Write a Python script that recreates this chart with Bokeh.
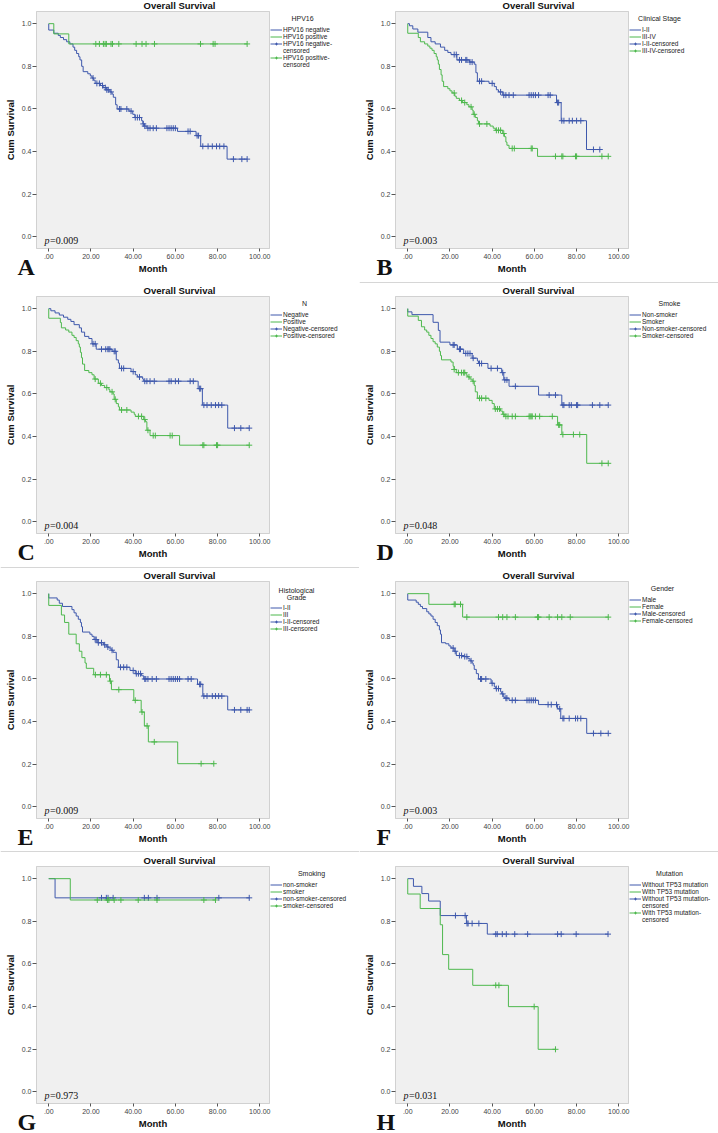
from bokeh.plotting import figure
from bokeh.layouts import gridplot
from bokeh.models import Legend, LegendItem, Label, FixedTicker, Range1d, BoxAnnotation, Span
from bokeh.embed import file_html
from bokeh.resources import INLINE

# ---------------- data (months, cumulative survival) ----------------
X_TICKS = [0, 20, 40, 60, 80, 100]
X_TICK_LABELS = [".00", "20.00", "40.00", "60.00", "80.00", "100.00"]
Y_TICKS = [0.0, 0.2, 0.4, 0.6, 0.8, 1.0]
Y_TICK_LABELS = ["0.0", "0.2", "0.4", "0.6", "0.8", "1.0"]

LETTERS = ["A", "B", "C", "D", "E", "F", "G", "H"]
P_VALUES = ["0.009", "0.003", "0.004", "0.048", "0.009", "0.003", "0.973", "0.031"]
GROUP_TITLES = [["HPV16"], ["Clinical Stage"], ["N"], ["Smoke"],
                ["Histological", "Grade"], ["Gender"], ["Smoking"], ["Mutation"]]
SERIES_LABELS = [
    ["HPV16 negative", "HPV16 positive"], ["I-II", "III-IV"], ["Negative", "Positive"],
    ["Non-smoker", "Smoker"], ["I-II", "III"], ["Male", "Female"],
    ["non-smoker", "smoker"], ["Without TP53 mutation", "With TP53 mutation"]]
CENSOR_LABELS = [
    [["HPV16 negative-", "censored"], ["HPV16 positive-", "censored"]],
    [["I-II-censored"], ["III-IV-censored"]],
    [["Negative-censored"], ["Positive-censored"]],
    [["Non-smoker-censored"], ["Smoker-censored"]],
    [["I-II-censored"], ["III-censored"]],
    [["Male-censored"], ["Female-censored"]],
    [["non-smoker-censored"], ["smoker-censored"]],
    [["Without TP53 mutation-", "censored"], ["With TP53 mutation-", "censored"]]]

# A: HPV16
A_neg_t = [0, 2.4, 4.5, 5.5, 7, 8.5, 10, 11.5, 12.3, 13.2, 14.2, 14.8, 15.6, 16.3, 18.5, 19.7, 20.5, 21.3, 22,
           24.5, 25.8, 27.5, 29, 30, 30.6, 31.7, 32.4, 38, 39.8, 40.8, 44, 44.6, 45.3, 46.5, 61, 69.8, 72, 84.5]
A_neg_s = [0.97, 0.955, 0.945, 0.935, 0.925, 0.915, 0.905, 0.89, 0.875, 0.86, 0.845, 0.83, 0.80, 0.775, 0.765,
           0.755, 0.745, 0.735, 0.72, 0.71, 0.70, 0.69, 0.68, 0.67, 0.655, 0.62, 0.60, 0.59, 0.575, 0.56, 0.545,
           0.53, 0.52, 0.51, 0.495, 0.475, 0.425, 0.365]
A_neg_c = [21, 22.8, 24, 25.5, 26.8, 27.5, 28.2, 29.5, 33.5, 34.2, 37, 39, 41, 42, 43, 44.8, 45.5, 47, 48, 49.5,
           51, 56, 57, 58, 59, 60, 66, 67, 70.3, 71, 73, 75.5, 77.5, 79.5, 81, 83, 87.5, 91.5, 94]
A_pos_t = [2.4, 9.5]
A_pos_s = [0.952, 0.905]
A_pos_c = [22.3, 24, 25.9, 26.7, 27.3, 29.5, 30.2, 33.2, 41.4, 44.2, 46.1, 50.1, 71.9, 77.9, 78.8, 94]

# B: Clinical stage
B_lo_t = [0.8, 2.4, 4.8, 9.5, 11, 13, 15.5, 17.5, 19, 20.5, 23.3, 29.2, 31.5, 32.3, 33, 38.5, 41, 42, 43, 45,
          70.5, 72.7, 84.7]
B_lo_s = [0.99, 0.975, 0.96, 0.935, 0.915, 0.905, 0.89, 0.875, 0.865, 0.855, 0.83, 0.82, 0.81, 0.77, 0.73,
          0.72, 0.705, 0.69, 0.68, 0.665, 0.63, 0.545, 0.41]
B_lo_c = [22, 23, 24.5, 25.5, 27.5, 28, 29.5, 30.5, 34, 35, 40, 44, 45.5, 46.5, 48, 50, 57.5, 58.5, 59.5, 60.5,
          62, 66.5, 67.5, 71, 71.5, 73, 74, 76.5, 78, 80, 82, 88, 91]
B_hi_t = [0, 5, 6, 8, 9.5, 10.5, 11.5, 12.5, 13.5, 14, 14.5, 15, 15.8, 16.3, 17, 19, 20, 21, 22.3, 23, 24.5, 26,
          28, 29, 30.5, 31, 32, 33, 33.5, 39, 40.5, 41.5, 45, 45.8, 46.5, 47, 48, 61.5]
B_hi_s = [0.955, 0.935, 0.915, 0.905, 0.895, 0.885, 0.875, 0.86, 0.845, 0.83, 0.81, 0.785, 0.76, 0.73, 0.705,
          0.695, 0.685, 0.675, 0.66, 0.65, 0.64, 0.63, 0.62, 0.61, 0.595, 0.575, 0.56, 0.545, 0.53, 0.52, 0.51,
          0.50, 0.485, 0.47, 0.445, 0.43, 0.415, 0.378]
B_hi_c = [22, 25.5, 27, 30, 31.5, 34, 37.5, 42, 43, 44, 45.5, 49.5, 50.5, 58.5, 59, 70, 73, 73.5, 79.5, 80, 92, 95]

# C: N
C_neg_t = [1, 3, 5, 7, 9, 10.5, 12, 14.5, 15.5, 17, 19, 20.5, 22.5, 30, 32, 33, 33.5, 39, 41, 42, 44.5, 45,
           70.8, 72.8, 84.8]
C_neg_s = [0.99, 0.98, 0.97, 0.96, 0.95, 0.94, 0.925, 0.91, 0.89, 0.87, 0.86, 0.835, 0.81, 0.80, 0.76, 0.745,
           0.72, 0.705, 0.69, 0.68, 0.67, 0.66, 0.625, 0.548, 0.44]
C_neg_c = [21, 22, 25, 27, 28, 28.5, 29, 31, 31.5, 34.5, 35.5, 40, 43, 45.5, 46.5, 48, 50, 57, 58, 60, 61.5, 67,
           68.5, 71.5, 72, 73.5, 75, 77, 79, 80.5, 82, 88, 91, 95]
C_pos_t = [0, 5.5, 6, 8, 9.5, 11, 12, 13, 14, 14.5, 15, 15.5, 16, 17, 19, 20.5, 21.5, 23.5, 25, 26.5, 28.5, 29,
           30.5, 31, 32, 33, 33.5, 39, 40.5, 41, 45, 45.8, 46.5, 48, 62]
C_pos_s = [0.955, 0.935, 0.91, 0.90, 0.89, 0.875, 0.865, 0.85, 0.835, 0.82, 0.795, 0.77, 0.74, 0.71, 0.70, 0.69,
           0.67, 0.65, 0.64, 0.63, 0.62, 0.61, 0.60, 0.575, 0.555, 0.54, 0.525, 0.515, 0.505, 0.495, 0.48, 0.47,
           0.43, 0.405, 0.36]
C_pos_c = [22, 24.5, 27.5, 30, 31.5, 34.5, 37, 42.5, 44, 45.5, 47, 49.5, 50.5, 57.5, 58.5, 73, 73.5, 79.5, 80, 95]

# D: Smoke
D_non_t = [0, 2, 12, 14.5, 15.3, 20, 23.5, 26.5, 30.5, 33, 33.5, 38, 44.5, 45.5, 48, 62, 73]
D_non_s = [0.985, 0.972, 0.936, 0.898, 0.843, 0.83, 0.81, 0.79, 0.768, 0.755, 0.743, 0.72, 0.70, 0.666, 0.636,
           0.595, 0.548]
D_non_c = [21.5, 22, 24.5, 25, 27.5, 28.5, 29.5, 31, 34, 35, 39.5, 42.5, 45, 46, 47, 51, 67, 70, 73.5, 74, 76.5,
           77.5, 80, 80.5, 87.5, 91, 95]
D_smk_t = [0, 5, 6.5, 8, 9, 10, 11, 12, 13, 14, 15, 15.5, 16, 20.5, 21.5, 22, 23, 27.5, 28, 28.5, 29.5, 30.5,
           31.5, 32, 33, 38.5, 40, 41, 44, 45, 46, 71, 73, 84.8]
D_smk_s = [0.965, 0.945, 0.915, 0.90, 0.89, 0.875, 0.86, 0.845, 0.835, 0.82, 0.80, 0.78, 0.76, 0.75, 0.73, 0.715,
           0.70, 0.695, 0.685, 0.68, 0.67, 0.66, 0.64, 0.61, 0.58, 0.57, 0.555, 0.53, 0.52, 0.505, 0.495, 0.455,
           0.41, 0.275]
D_smk_c = [22, 24, 25.5, 26.5, 27, 29, 31, 34, 35, 37, 41.5, 42.5, 43.5, 45.5, 46.5, 47.5, 49.5, 51, 57.5, 58,
           58.5, 59, 60.5, 62.5, 68.5, 71.5, 72, 73.5, 78.5, 81.5, 92, 95]

# E: Histological grade
E_lo_t = [0, 4, 5, 6.5, 11, 12, 13, 14, 15, 15.5, 16, 19.5, 20.5, 21.5, 23, 26, 27.5, 28.5, 29.5, 30.5, 32, 33,
          38.5, 41, 44, 45, 70.5, 73, 84.8]
E_lo_s = [0.98, 0.97, 0.955, 0.94, 0.925, 0.91, 0.895, 0.88, 0.865, 0.845, 0.82, 0.81, 0.80, 0.785, 0.77, 0.76,
          0.75, 0.745, 0.735, 0.725, 0.69, 0.655, 0.64, 0.625, 0.615, 0.60, 0.575, 0.52, 0.455]
E_lo_c = [22, 22.5, 23.5, 25, 26.5, 28, 30, 34, 35.5, 37, 40, 41.5, 42.5, 43.5, 45.5, 46, 47, 49, 51, 57, 58, 59,
          60, 61, 62, 66, 67.5, 71.5, 72, 73.5, 75, 77.5, 79, 80.5, 82, 88, 91, 94, 95]
E_hi_t = [0, 6, 7.5, 9.5, 13, 14.5, 15.7, 17.2, 17.8, 21.3, 28.8, 29.7, 40.3, 43.8, 45.3, 47.2, 61.1]
E_hi_s = [0.945, 0.90, 0.865, 0.81, 0.765, 0.73, 0.70, 0.675, 0.65, 0.62, 0.59, 0.55, 0.50, 0.445, 0.38, 0.305,
          0.203]
E_hi_c = [22.1, 24.5, 27.3, 29.2, 33.2, 41, 44.2, 46.6, 50, 72.2, 78.2]

# F: Gender
F_m_t = [0, 4, 5, 6, 7, 9, 10, 11, 12, 13, 14, 15, 15.5, 16, 18, 19.5, 20.5, 22, 23, 26.5, 28.5, 29.5, 30.5, 31,
         31.5, 32.5, 33.5, 39.5, 41, 41.5, 44, 44.5, 45.5, 46, 48, 62, 71, 72.5, 84.8]
F_m_s = [0.97, 0.96, 0.95, 0.94, 0.93, 0.915, 0.905, 0.895, 0.88, 0.865, 0.85, 0.83, 0.81, 0.77, 0.765, 0.755,
         0.745, 0.73, 0.71, 0.705, 0.695, 0.685, 0.675, 0.665, 0.645, 0.625, 0.60, 0.58, 0.565, 0.555, 0.54, 0.53,
         0.515, 0.51, 0.50, 0.48, 0.46, 0.415, 0.345]
F_m_c = [21.5, 22.5, 24.5, 25.5, 27, 28, 30, 34.5, 35, 37, 40, 42, 43, 45, 46.5, 47, 49.5, 51, 56.5, 57.5, 58.5,
         59.5, 60.5, 66.5, 68, 70.5, 72, 73.5, 74, 76.5, 79.5, 80.5, 82, 88, 91.5, 95]
F_f_t = [10, 26]
F_f_s = [0.95, 0.89]
F_f_c = [22, 22.5, 25, 28, 43, 45, 47, 51, 61.5, 62, 67, 71, 73, 77, 95]

# G: Smoking
G_non_t = [3]
G_non_s = [0.91]
G_non_c = [25, 27.3, 28.1, 30.5, 45.3, 47.2, 51.3, 80.6, 95]
G_smk_t = [10.2]
G_smk_s = [0.90]
G_smk_c = [23, 27.8, 28.5, 31, 34.2, 42.4, 51.3, 73.5, 79]

# H: Mutation
H_wo_t = [2.7, 6.7, 9.9, 15.4, 27.8, 37.7]
H_wo_s = [0.964, 0.93, 0.895, 0.827, 0.79, 0.74]
H_wo_c = [22.6, 27.2, 28.1, 28.6, 30.5, 33.7, 41.7, 42.4, 44.8, 46.7, 50.7, 56.8, 71, 72.7, 79.8, 94.9]
H_w_t = [0, 5.9, 15.4, 16.5, 19.4, 30.8, 47.7, 61.8]
H_w_s = [0.928, 0.86, 0.784, 0.644, 0.575, 0.50, 0.40, 0.20]
H_w_c = [41.7, 43.2, 59.9, 70]

CURVES = [
    [(A_neg_t, A_neg_s, A_neg_c), (A_pos_t, A_pos_s, A_pos_c)],
    [(B_lo_t, B_lo_s, B_lo_c), (B_hi_t, B_hi_s, B_hi_c)],
    [(C_neg_t, C_neg_s, C_neg_c), (C_pos_t, C_pos_s, C_pos_c)],
    [(D_non_t, D_non_s, D_non_c), (D_smk_t, D_smk_s, D_smk_c)],
    [(E_lo_t, E_lo_s, E_lo_c), (E_hi_t, E_hi_s, E_hi_c)],
    [(F_m_t, F_m_s, F_m_c), (F_f_t, F_f_s, F_f_c)],
    [(G_non_t, G_non_s, G_non_c), (G_smk_t, G_smk_s, G_smk_c)],
    [(H_wo_t, H_wo_s, H_wo_c), (H_w_t, H_w_s, H_w_c)],
]

# ---------------- styling / layout (pixels inside each panel) ----------------
BLUE = "#3E58AC"
GREEN = "#4DB84D"
BG = "#F0F0F0"
FRAME = "#7A7A7A"
SANS = "Liberation Sans"
SERIF = "Liberation Serif"
W = 359
ROW_H = [285, 285, 285, 278]
BOX_L, BOX_R, BOX_T, BOX_HPX = 36, 269, 11, 237
X_BOX = (-5.8, 104.6)
Y_BOX = (-0.054, 1.057)
ITEM_H = 7
LEGEND_TITLE_DX = [33, 31, 35, 41, 27, 34, 42, 41]
SEPARATOR_FROM_TOP = {1: 282, 2: 282, 4: 281, 5: 281}


def surv_at(t_list, s_list, x):
    s = 1.0
    for t, v in zip(t_list, s_list):
        if t <= x:
            s = v
    return s


def draw_curve(p, t, s, c, color):
    end = max(list(t) + list(c))
    xs = [0.0] + list(t) + [end]
    ys = [1.0] + list(s) + [s[-1]]
    line = p.step(xs, ys, mode="after", line_color=color, line_width=1)
    cy = [surv_at(t, s, x) for x in c]
    cross = p.scatter(c, cy, marker="cross", size=6, line_color=color, line_width=1)
    return line, cross


def lab(p, x, y_top, H, text, **kw):
    p.add_layout(Label(x=x, y=H - y_top, x_units="screen", y_units="screen", text=text, **kw))


def make_panel(i):
    H = ROW_H[i // 2]
    ux = (BOX_R - BOX_L) / (X_BOX[1] - X_BOX[0])
    uy = BOX_HPX / (Y_BOX[1] - Y_BOX[0])
    xr = Range1d(X_BOX[0] - BOX_L / ux, X_BOX[1] + (W - BOX_R) / ux)
    yr = Range1d(Y_BOX[0] - (H - BOX_T - BOX_HPX) / uy, Y_BOX[1] + BOX_T / uy)
    p = figure(width=W, height=H, x_range=xr, y_range=yr,
               output_backend="svg", toolbar_location=None,
               min_border_left=0, min_border_right=0, min_border_top=0, min_border_bottom=0,
               background_fill_color="white", border_fill_color="white", outline_line_color=None)
    p.xgrid.visible = False
    p.ygrid.visible = False

    p.add_layout(BoxAnnotation(left=X_BOX[0], right=X_BOX[1], bottom=Y_BOX[0], top=Y_BOX[1],
                               fill_color=BG, fill_alpha=1, line_color=FRAME, line_width=1,
                               level="underlay"))
    if i in SEPARATOR_FROM_TOP:
        p.add_layout(Span(location=H - SEPARATOR_FROM_TOP[i], location_units="screen", dimension="width",
                          line_color="#D6D6D6", line_width=1))

    for ax, ticks, labels in ((p.xaxis[0], X_TICKS, X_TICK_LABELS), (p.yaxis[0], Y_TICKS, Y_TICK_LABELS)):
        ax.ticker = FixedTicker(ticks=ticks)
        ax.major_label_overrides = {k: v for k, v in zip(ticks, labels)}
        ax.axis_line_color = None
        ax.minor_tick_line_color = None
        ax.major_tick_in = 0
        ax.major_tick_line_color = "#555555"
        ax.major_label_text_font = SANS
        ax.major_label_text_font_size = "7px"
        ax.major_label_text_color = "#444444"
        ax.axis_label_text_font = SANS
        ax.axis_label_text_font_size = "9.5px"
        ax.axis_label_text_font_style = "bold"
        ax.axis_label_text_color = "#111111"
    p.xaxis[0].fixed_location = Y_BOX[0]
    p.xaxis[0].bounds = X_BOX
    p.xaxis[0].major_tick_out = 3
    p.xaxis[0].major_label_standoff = 2
    p.xaxis[0].axis_label = "Month"
    p.xaxis[0].axis_label_standoff = 1
    p.yaxis[0].fixed_location = X_BOX[0]
    p.yaxis[0].bounds = Y_BOX
    p.yaxis[0].major_tick_out = 4
    p.yaxis[0].major_label_standoff = 1
    p.yaxis[0].axis_label = "Cum Survival"
    p.yaxis[0].axis_label_standoff = 3

    rends = [draw_curve(p, t, s, c, col) for (t, s, c), col in zip(CURVES[i], (BLUE, GREEN))]
    dummy = p.line(x=[], y=[], line_alpha=0)

    items = []
    for (line, cross), name in zip(rends, SERIES_LABELS[i]):
        items.append(LegendItem(label=name, renderers=[line]))
    for (line, cross), names in zip(rends, CENSOR_LABELS[i]):
        items.append(LegendItem(label=names[0], renderers=[line, cross]))
        for extra in names[1:]:
            items.append(LegendItem(label=extra, renderers=[dummy]))

    ntitle = len(GROUP_TITLES[i])
    items_top = 26 + 8 * (ntitle - 1)
    leg = Legend(items=items, location=(BOX_R + 1, H - items_top - ITEM_H * len(items)),
                 label_text_font=SANS, label_text_font_size="6.5px", label_text_color="#222222",
                 label_height=ITEM_H, glyph_height=ITEM_H, glyph_width=12, label_standoff=1,
                 spacing=0, padding=0, margin=0, border_line_color=None, background_fill_alpha=0)
    p.add_layout(leg)

    for k, txt in enumerate(GROUP_TITLES[i]):
        lab(p, BOX_R + LEGEND_TITLE_DX[i], 18 + (2 if ntitle > 1 else 0) + 7 * k, H, txt,
            text_font=SANS, text_font_size="7px", text_color="#222222",
            text_align="center", text_baseline="middle")

    lab(p, 179, 5, H, "Overall Survival", text_font=SANS, text_font_size="9.5px", text_font_style="bold",
        text_color="#111111", text_align="center", text_baseline="middle")
    lab(p, 44, 240, H, "p", text_font=SERIF, text_font_size="10px", text_font_style="italic",
        text_color="#111111", text_baseline="alphabetic")
    lab(p, 49.5, 240, H, "=" + P_VALUES[i], text_font=SERIF, text_font_size="10px",
        text_color="#111111", text_baseline="alphabetic")
    lab(p, 17, 266, H, LETTERS[i], text_font=SERIF, text_font_size="24px", text_font_style="bold",
        text_color="#111111", text_baseline="alphabetic")
    return p


panels = [make_panel(i) for i in range(8)]
grid = gridplot([panels[0:2], panels[2:4], panels[4:6], panels[6:8]], toolbar_location=None)

open("out.html", "w").write(file_html(grid, INLINE))
